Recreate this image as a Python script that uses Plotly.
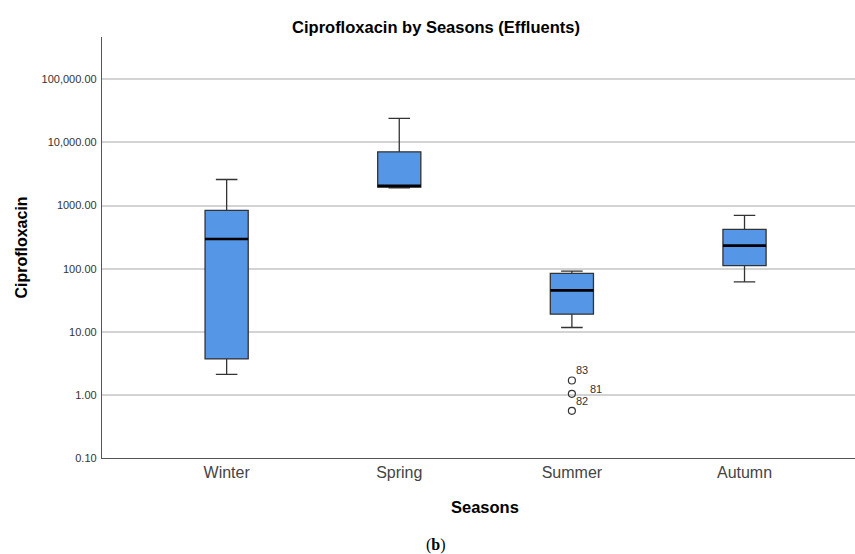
import math
import plotly.graph_objects as go

# ---- data ----
seasons = ["Winter", "Spring", "Summer", "Autumn"]
lower_whisker = [2.12, 1900, 11.7, 62]
q1 = [3.72, 1970, 19.0, 112]
median = [295, 2050, 45.3, 232]
q3 = [841, 7100, 84, 421]
upper_whisker = [2590, 24000, 91.6, 701]

outlier_season = ["Summer", "Summer", "Summer"]
outlier_values = [1.69, 1.04, 0.56]
outlier_ids = ["83", "81", "82"]

y_tickvals = [0.1, 1, 10, 100, 1000, 10000, 100000]
y_ticktext = ["0.10", "1.00", "10.00", "100.00", "1000.00", "10,000.00", "100,000.00"]

# ---- styling ----
FILL = "#5596E6"
EDGE = "#333333"
BOX_W = 0.25
FONT = "Liberation Sans, Arial, sans-serif"
W, H = 855, 554
ML, MR, MT, MB = 102, 0, 37, 96
PW, PH = W - ML - MR, H - MT - MB

def px_to_paper(px, py):
    return (px - ML) / PW, (H - MB - py) / PH

pos = {s: i for i, s in enumerate(seasons)}
xs = [pos[s] for s in seasons]

fig = go.Figure()
fig.add_trace(go.Box(
    x=xs, q1=q1, median=median, q3=q3,
    lowerfence=lower_whisker, upperfence=upper_whisker,
    width=BOX_W, whiskerwidth=0.5, boxpoints=False,
    fillcolor=FILL, line=dict(color=EDGE, width=1.3),
    showlegend=False, hoverinfo="skip",
))

# thicker median lines
mx, my = [], []
for x, m in zip(xs, median):
    mx += [x - BOX_W / 2, x + BOX_W / 2, None]
    my += [m, m, None]
fig.add_trace(go.Scatter(x=mx, y=my, mode="lines",
                         line=dict(color="black", width=2.6),
                         showlegend=False, hoverinfo="skip"))

# outliers
ox = [pos[s] for s in outlier_season]
fig.add_trace(go.Scatter(x=ox, y=outlier_values, mode="markers",
                         marker=dict(symbol="circle-open", size=7,
                                     color=EDGE, line=dict(width=1.2)),
                         showlegend=False, hoverinfo="skip"))

label_shift = {"83": (10, 11), "81": (24, 5), "82": (10, 10)}
for x, v, lab in zip(ox, outlier_values, outlier_ids):
    dx, dy = label_shift[lab]
    fig.add_annotation(x=x, y=math.log10(v), xref="x", yref="y", text=lab, showarrow=False,
                       xshift=dx, yshift=dy, font=dict(size=11, color="#333", family=FONT))

fig.update_layout(
    width=W, height=H,
    margin=dict(l=ML, r=MR, t=MT, b=MB, autoexpand=False),
    paper_bgcolor="white", plot_bgcolor="white",
    title=dict(text="<b>Ciprofloxacin by Seasons (Effluents)</b>",
               x=436 / W, xref="container", xanchor="center",
               y=1 - 27 / H, yref="container", yanchor="middle",
               font=dict(size=16.5, color="black", family=FONT)),
    font=dict(family=FONT),
)

fig.update_xaxes(
    range=[-0.722, 3.64], tickvals=xs, ticktext=seasons,
    showgrid=False, zeroline=False,
    showline=True, linecolor="#555", linewidth=1.3,
    ticks="", tickfont=dict(size=16, color="#444", family=FONT),
    automargin=False,
)
fig.update_yaxes(
    type="log", range=[-1, 5.671],
    tickvals=y_tickvals, ticktext=y_ticktext,
    showgrid=True, gridcolor="#d3d3d3", gridwidth=1.5,
    zeroline=False, showline=True, linecolor="#555", linewidth=1.3,
    ticks="", ticklabelstandoff=2,
    tickfont=dict(size=11, color="#333", family=FONT),
    title=dict(text="<b>Ciprofloxacin</b>", font=dict(size=16, color="black", family=FONT),
               standoff=9),
    automargin=False,
)

sx, sy = px_to_paper(485, 507)
fig.add_annotation(x=sx, y=sy, xref="paper", yref="paper",
                   xanchor="center", yanchor="middle",
                   text="<b>Seasons</b>", showarrow=False,
                   font=dict(size=16.5, color="black", family=FONT))
bx, by = px_to_paper(436, 545)
fig.add_annotation(x=bx, y=by, xref="paper", yref="paper",
                   xanchor="center", yanchor="middle",
                   text="(<b>b</b>)", showarrow=False,
                   font=dict(size=16, color="black", family="Liberation Serif, serif"))

fig.write_html("out.html", config={"displayModeBar": False},
               post_script="document.body.style.margin='0';")
